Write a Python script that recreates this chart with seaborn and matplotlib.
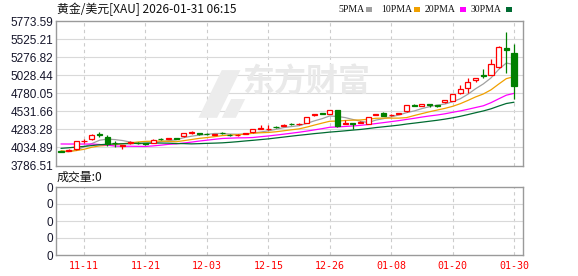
import matplotlib
matplotlib.use("Agg")
import matplotlib.pyplot as plt
import numpy as np
import pandas as pd
import seaborn as sns
from matplotlib.patches import Rectangle, Polygon

# ---------------- data ----------------
dates = ["11-06", "11-07", "11-10", "11-11", "11-12", "11-13", "11-14", "11-17", "11-18", "11-19",
         "11-20", "11-21", "11-24", "11-25", "11-26", "11-27", "11-28", "12-01", "12-02", "12-03",
         "12-04", "12-05", "12-08", "12-09", "12-10", "12-11", "12-12", "12-15", "12-16", "12-17",
         "12-18", "12-19", "12-22", "12-23", "12-24", "12-26", "12-29", "12-30", "12-31", "01-02",
         "01-05", "01-06", "01-07", "01-08", "01-09", "01-12", "01-13", "01-14", "01-15", "01-16",
         "01-19", "01-20", "01-21", "01-22", "01-23", "01-26", "01-27", "01-28", "01-29", "01-30"]
opens = [3984, 3988, 4015, 4122, 4152, 4220, 4180, 4100, 4055, 4098,
         4100, 4090, 4097, 4155, 4155, 4163, 4188, 4238, 4230, 4220,
         4212, 4236, 4208, 4205, 4220, 4243, 4294, 4285, 4318, 4336,
         4360, 4352, 4371, 4482, 4506, 4499, 4554, 4362, 4365, 4370,
         4362, 4480, 4512, 4478, 4498, 4531, 4615, 4604, 4624, 4615,
         4659, 4677, 4777, 4851, 4961, 5030, 5033, 5140, 5407, 5330]
highs = [3992, 4008, 4128, 4153, 4225, 4245, 4207, 4125, 4070, 4125,
         4110, 4100, 4150, 4165, 4168, 4170, 4240, 4260, 4235, 4232,
         4225, 4250, 4215, 4222, 4235, 4292, 4350, 4350, 4325, 4356,
         4370, 4368, 4452, 4500, 4515, 4552, 4556, 4416, 4372, 4400,
         4458, 4500, 4518, 4495, 4512, 4625, 4630, 4638, 4630, 4622,
         4692, 4775, 4896, 4988, 4995, 5111, 5248, 5426, 5618, 5454]
lows = [3970, 3982, 4005, 4098, 4133, 4180, 4051, 4035, 4015, 4085,
        4080, 4070, 4090, 4135, 4150, 4150, 4182, 4225, 4212, 4205,
        4205, 4215, 4195, 4195, 4215, 4238, 4285, 4280, 4300, 4330,
        4340, 4345, 4368, 4470, 4490, 4495, 4320, 4355, 4289, 4365,
        4355, 4475, 4465, 4470, 4490, 4525, 4600, 4598, 4585, 4590,
        4652, 4670, 4770, 4782, 4940, 4990, 5025, 5125, 5056, 4704]
closes = [3976, 4000, 4120, 4130, 4207, 4210, 4078, 4090, 4065, 4104,
          4094, 4085, 4143, 4150, 4163, 4157, 4234, 4243, 4222, 4215,
          4220, 4232, 4205, 4210, 4230, 4288, 4300, 4290, 4313, 4350,
          4355, 4360, 4448, 4488, 4500, 4544, 4325, 4370, 4360, 4378,
          4453, 4492, 4471, 4483, 4506, 4613, 4610, 4632, 4620, 4610,
          4686, 4768, 4837, 4933, 4988, 5015, 5180, 5420, 5376, 4873]
# closes before the visible window (only used for the moving averages)
prior_closes = [3760, 3833, 3858, 3866, 3857, 3886, 3960, 3985, 4040, 3975,
                4017, 4110, 4143, 4208, 4326, 4250, 4356, 4125, 4095, 4126,
                4113, 3985, 3953, 3930, 4024, 4002, 4000, 3932, 3980]

ma_windows = [5, 10, 20, 30]
ma_names = ["5PMA", "10PMA", "20PMA", "30PMA"]
ma_colors = ["#a0a0a0", "#f0a000", "#ff00ff", "#006b32"]

y_ticks = [3786.51, 4034.89, 4283.28, 4531.66, 4780.05, 5028.44, 5276.82, 5525.21, 5773.59]
x_tick_dates = ["11-11", "11-21", "12-03", "12-15", "12-26", "01-08", "01-20", "01-30"]
title_text = "黄金/美元[XAU] 2026-01-31 06:15"
volume_text = "成交量:0"
watermark_text = "东方财富"

# ---------------- style ----------------
sns.set_theme(style="white")
plt.rcParams["font.family"] = ["Noto Sans CJK SC", "DejaVu Sans"]

W, H = 578, 276
fig = plt.figure(figsize=(W / 100, H / 100), dpi=100)
fig.patch.set_facecolor("white")

def fx(px):
    return px / W

def fy(py):
    return 1 - py / H

L, R = 56, 523
ax = fig.add_axes([fx(L), fy(165.5), fx(R) - fx(L), fy(21) - fy(165.5)])
axv = fig.add_axes([fx(L), fy(255), fx(R) - fx(L), fy(187) - fy(255)])

n = len(dates)
x = np.arange(n)
xlim = (-0.65, n + 0.17)

grid_h = "#d9d9d9"
grid_v = "#cccccc"
border = "#9a9a9a"
up_c = "#ff0000"
dn_c = "#008000"

tick_pos = [dates.index(d) for d in x_tick_dates]

for a in (ax, axv):
    a.set_facecolor("white")
    a.set_xlim(*xlim)
    for s in a.spines.values():
        s.set_color(border)
        s.set_linewidth(1.0)
    for p in tick_pos:
        a.axvline(p, color=grid_v, lw=0.8, ls=(0, (3, 3)), zorder=0)
    a.tick_params(axis="both", length=0)

# main price panel
ax.set_ylim(y_ticks[0], y_ticks[-1])
for yt in y_ticks[1:-1]:
    ax.axhline(yt, color=grid_h, lw=0.8, zorder=0)
ax.set_yticks(y_ticks)
ax.set_yticklabels([f"{v:.2f}" for v in y_ticks], family="Liberation Sans",
                   fontsize=8.5, color="#15152a")
ax.tick_params(axis="y", pad=2)
ax.set_xticks([])

# watermark
ax.text(0.535, 0.575, watermark_text, transform=ax.transAxes, fontsize=23,
        fontweight="bold", color="#e9e9e9", ha="center", va="center", zorder=0.5)
ax.add_patch(Polygon([(0.305, 0.33), (0.345, 0.33), (0.395, 0.66), (0.355, 0.66)],
                     closed=True, transform=ax.transAxes, color="#ececec", zorder=0.5, lw=0))
ax.add_patch(Polygon([(0.355, 0.33), (0.385, 0.33), (0.405, 0.46), (0.375, 0.46)],
                     closed=True, transform=ax.transAxes, color="#ececec", zorder=0.5, lw=0))

# moving averages
all_closes = pd.Series(prior_closes + closes, dtype=float)
ma_rows = []
for w, name in zip(ma_windows, ma_names):
    vals = all_closes.rolling(w).mean().to_numpy()[len(prior_closes):]
    for i, v in enumerate(vals):
        ma_rows.append({"x": i, "value": v, "series": name})
ma_df = pd.DataFrame(ma_rows)
sns.lineplot(data=ma_df, x="x", y="value", hue="series", hue_order=ma_names,
             palette=ma_colors, legend=False, linewidth=0.9, ax=ax, zorder=2)
ax.set_xlabel("")
ax.set_ylabel("")

# candles
bw = 0.66
for i in range(n):
    o, h, l, c = opens[i], highs[i], lows[i], closes[i]
    up = c >= o
    col = up_c if up else dn_c
    lo_b, hi_b = min(o, c), max(o, c)
    ax.vlines(i, l, lo_b, color=col, lw=0.9, zorder=3)
    ax.vlines(i, hi_b, h, color=col, lw=0.9, zorder=3)
    bh = max(hi_b - lo_b, 6)
    if up:
        ax.add_patch(Rectangle((i - bw / 2, lo_b), bw, bh, facecolor="white",
                               edgecolor=col, lw=0.9, zorder=4))
    else:
        ax.add_patch(Rectangle((i - bw / 2, lo_b), bw, bh, facecolor=col,
                               edgecolor=col, lw=0.9, zorder=4))

# volume panel
axv.set_ylim(0, 4)
for yv in [1, 2, 3]:
    axv.axhline(yv, color=grid_h, lw=0.8, zorder=0)
axv.set_yticks([0, 1, 2, 3, 4])
axv.set_yticklabels(["0"] * 5, family="Liberation Sans", fontsize=8.5, color="#15152a")
axv.tick_params(axis="y", pad=2)
axv.set_xticks(tick_pos)
axv.set_xticklabels(x_tick_dates, family="DejaVu Sans Mono", fontsize=7.2, color="#ff0000")
axv.tick_params(axis="x", pad=4)

# texts
fig.text(fx(57), fy(9), title_text, fontsize=8.6, color="#111111", ha="left", va="center")
fig.text(fx(57), fy(177), volume_text, fontsize=8.6, color="#111111", ha="left", va="center")

leg_x = [338, 381, 425, 471]
sq_x = [366, 414, 460, 506]
for name, col, tx, sx in zip(ma_names, ma_colors, leg_x, sq_x):
    fig.text(fx(tx), fy(9.5), name, family="Liberation Serif", fontsize=7.0,
             color="#111111", ha="left", va="center")
    fig.patches.append(Rectangle((fx(sx), fy(11.5)), fx(6), 4.5 / H, transform=fig.transFigure,
                                 facecolor=col, edgecolor="none", figure=fig))

fig.savefig("out.png", dpi=100, facecolor="white")
